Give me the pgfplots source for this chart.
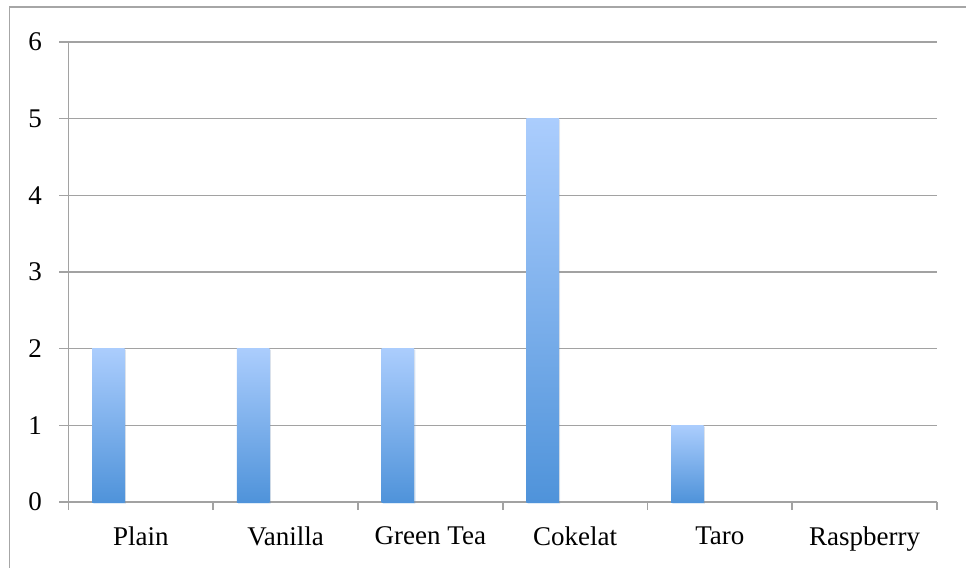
\documentclass[border=0pt]{standalone}
\usepackage{pgfplots}
\pgfplotsset{compat=1.18}
\usepackage{fontspec}
\setmainfont{Liberation Serif}
\usetikzlibrary{shadows}
\definecolor{gridgray}{RGB}{162,162,162}
\definecolor{framegray}{RGB}{166,166,166}
\definecolor{bartop}{RGB}{171,205,253}
\definecolor{barbot}{RGB}{79,147,218}
\begin{document}
\begin{tikzpicture}
\useasboundingbox (-68.5bp,-66bp) rectangle (897.5bp,502bp);
\draw[framegray, line width=1.6bp] (-59bp,-80bp) -- (-59bp,495bp) -- (910bp,495bp);
\begin{axis}[
  scale only axis,
  width=868.5bp, height=460bp,
  xmin=-0.5, xmax=5.5,
  ymin=0, ymax=6,
  ytick={0,1,2,3,4,5,6},
  xtick={0,1,2,3,4,5},
  xticklabels={Plain,Vanilla,Green Tea,Cokelat,Taro,Raspberry},
  minor xtick={-0.5,0.5,1.5,2.5,3.5,4.5,5.5},
  x tick style={draw=none},
  minor x tick style={draw=gridgray, line width=1.6bp},
  y tick style={draw=gridgray, line width=1.6bp},
  major tick length=9bp,
  minor tick length=8bp,
  tick align=outside,
  axis x line*=bottom,
  axis y line*=left,
  axis line style={draw=gridgray, line width=1.6bp, -},
  ymajorgrids,
  major grid style={draw=gridgray, line width=1.6bp},
  /pgf/number format/assume math mode=true,
  tick label style={font=\fontsize{27bp}{32bp}\selectfont, text=black},
  yticklabel style={xshift=-14bp},
  xticklabel style={yshift=-12bp},
  clip=false,
  bar/.style={ybar, bar width=32.5bp, bar shift=-32.5bp, draw=none,
    top color=bartop, bottom color=barbot,
    drop shadow={shadow xshift=1.2bp, shadow yshift=-1.2bp, opacity=0.18}},
]
\addplot[bar] coordinates {(0,2)};
\addplot[bar] coordinates {(1,2)};
\addplot[bar] coordinates {(2,2)};
\addplot[bar] coordinates {(3,5)};
\addplot[bar] coordinates {(4,1)};
\addplot[draw=none, mark=none, forget plot] coordinates {(5,0)};
\end{axis}
\end{tikzpicture}
\end{document}
